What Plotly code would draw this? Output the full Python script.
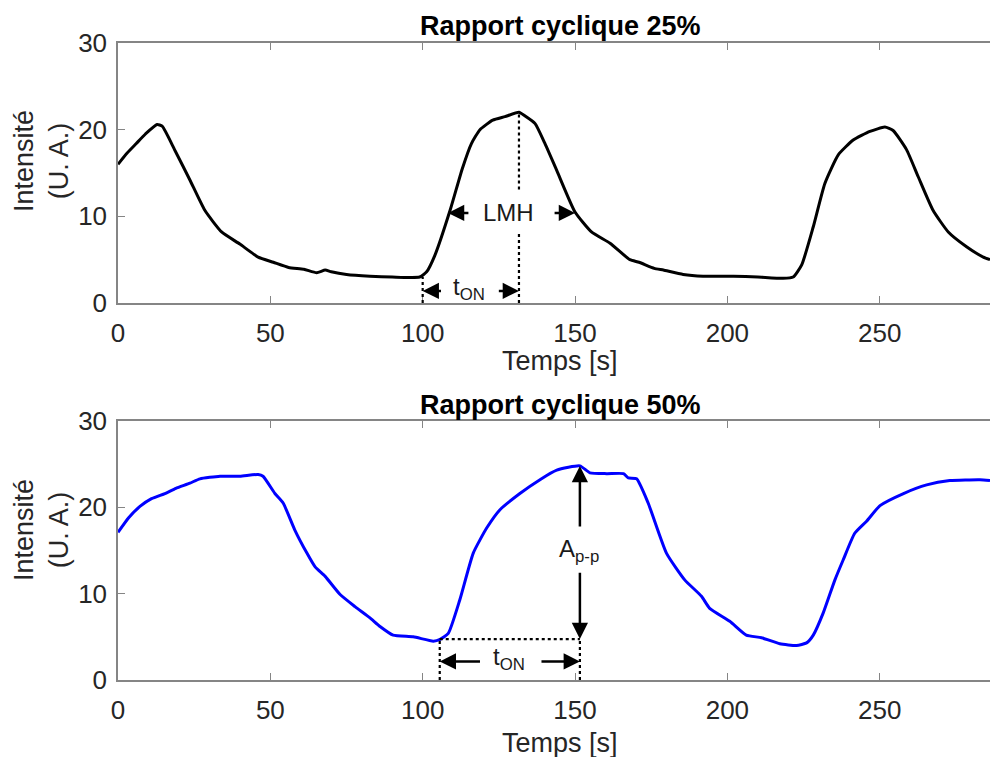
import plotly.graph_objects as go

# ---------------- data ----------------
top_t = [0, 3, 6, 9, 12.8, 14.5, 18.7, 23.6, 28.5, 34, 40, 46, 51, 56, 61, 65.2, 68, 70, 75, 82.7,
         90, 99, 101.3, 104, 109, 113, 116, 118.8, 123, 127, 131.6, 133.5, 136.9, 140, 144, 150,
         155.4, 161.5, 168, 171, 176, 179, 185.5, 192, 202, 210, 218.3, 221.6, 224.4, 228.2, 232,
         236.4, 241.3, 246.8, 251.7, 254.4, 258.8, 262.6, 267.5, 272.5, 278.5, 284, 286.2]
top_i = [16.0, 17.3, 18.4, 19.5, 20.6, 20.4, 17.6, 14.2, 10.7, 8.2, 6.8, 5.3, 4.7, 4.1, 3.9, 3.5,
         3.8, 3.6, 3.3, 3.1, 3.0, 3.0, 3.6, 5.5, 10.7, 15.5, 18.4, 20.0, 21.1, 21.5, 22.0, 21.6,
         20.7, 18.5, 15.3, 10.5, 8.2, 6.9, 5.0, 4.7, 4.0, 3.8, 3.3, 3.1, 3.1, 3.0, 2.85, 3.0, 4.4,
         8.8, 13.8, 17.1, 18.8, 19.8, 20.3, 19.9, 17.7, 14.6, 10.7, 8.2, 6.5, 5.3, 5.0]

bot_t = [0, 3.5, 7.2, 11, 15.4, 19, 23.6, 26.9, 33.5, 40, 46, 47.6, 51.5, 54.2, 58, 62, 64.7, 68,
         72.9, 77.8, 82.7, 86, 90.3, 96.9, 103.5, 105.7, 108.4, 112.2, 116.6, 121, 125.3, 131.9,
         138.5, 144, 151.6, 154.9, 160.4, 165.9, 167.5, 170.2, 174, 180, 186, 191.5, 194.2, 200.8,
         206.2, 211.2, 217.2, 222.7, 226, 228.2, 231.5, 235.3, 238, 241.8, 245.7, 250.1, 257.8,
         265.4, 273, 282.9, 286.2]
bot_i = [17.1, 18.8, 20.1, 21.0, 21.6, 22.2, 22.8, 23.3, 23.6, 23.6, 23.8, 23.6, 21.6, 20.5, 17.4,
         14.7, 13.1, 12.0, 9.9, 8.5, 7.2, 6.2, 5.2, 5.0, 4.5, 4.7, 5.4, 9.3, 14.7, 17.6, 19.7, 21.6,
         23.2, 24.3, 24.8, 24.0, 23.9, 23.9, 23.4, 23.3, 20.5, 14.7, 11.6, 9.7, 8.3, 6.8, 5.2, 4.9,
         4.2, 4.0, 4.3, 5.2, 7.8, 11.6, 13.9, 17.0, 18.4, 20.2, 21.6, 22.6, 23.1, 23.2, 23.1]

x_ticks = [0, 50, 100, 150, 200, 250]
y_ticks = [0, 10, 20, 30]
titles = ["Rapport cyclique 25%", "Rapport cyclique 50%"]
x_label = "Temps [s]"
y_label = "Intensité<br>(U. A.)"

# annotation anchor values (data units)
top_on_start, top_on_end, top_on_base, top_peak = 100, 131.6, 3.0, 22.0
top_ton_y = 1.4
lmh_y, lmh_left, lmh_right = 10.4, 108.3, 150.0
lmh_tail_left, lmh_tail_right = 115.5, 142.8
lmh_gap_lo, lmh_gap_hi = 8.2, 13.1
bot_on_start, bot_on_end, bot_base, bot_peak = 105.6, 151.6, 4.74, 24.8
bot_ton_y = 2.15
bot_ton_tail_left, bot_ton_tail_right = 119.3, 138.5
app_up_tail, app_down_tail = 17.6, 12.6

# ---------------- figure ----------------
FONT = "Liberation Sans, Arial, sans-serif"
fig = go.Figure()
fig.add_trace(go.Scatter(x=top_t, y=top_i, mode="lines",
                         line=dict(color="#000000", width=3, shape="spline", smoothing=0.5),
                         xaxis="x", yaxis="y", showlegend=False, hoverinfo="skip"))
fig.add_trace(go.Scatter(x=bot_t, y=bot_i, mode="lines",
                         line=dict(color="#0000ff", width=3, shape="spline", smoothing=0.5),
                         xaxis="x2", yaxis="y2", showlegend=False, hoverinfo="skip"))

axcol = "#858585"
tickfont = dict(family=FONT, size=26, color="#262626")
xcommon = dict(range=[0, 286.2], tickvals=x_ticks, ticks="inside", ticklen=7, tickcolor=axcol,
               showline=True, linecolor=axcol, linewidth=1.5, mirror="ticks", showgrid=False,
               zeroline=False, tickfont=tickfont, ticklabelstandoff=6)
ycommon = dict(range=[0, 30], tickvals=y_ticks, ticks="inside", ticklen=7, tickcolor=axcol,
               showline=True, linecolor=axcol, linewidth=1.5, mirror=False, showgrid=False,
               zeroline=False, tickfont=tickfont, ticklabelstandoff=4)

D_TOP = [0.5918, 1.0]
D_BOT = [0.0, 0.4066]
fig.update_layout(
    width=990, height=757, margin=dict(l=118, r=0, t=43, b=77),
    paper_bgcolor="white", plot_bgcolor="white",
    xaxis=dict(domain=[0, 1], anchor="y", **xcommon),
    yaxis=dict(domain=D_TOP, anchor="x", **ycommon),
    xaxis2=dict(domain=[0, 1], anchor="y2", **xcommon),
    yaxis2=dict(domain=D_BOT, anchor="x2", **ycommon),
    font=dict(family=FONT),
)

dot = dict(color="#000000", width=2.2, dash="dot")
shapes = [
    dict(type="line", xref="x", yref="y", x0=top_on_start, x1=top_on_start, y0=0, y1=top_on_base, line=dot),
    dict(type="line", xref="x", yref="y", x0=top_on_end, x1=top_on_end, y0=0, y1=lmh_gap_lo, line=dot),
    dict(type="line", xref="x", yref="y", x0=top_on_end, x1=top_on_end, y0=lmh_gap_hi, y1=top_peak, line=dot),
    dict(type="line", xref="x2", yref="y2", x0=bot_on_start, x1=bot_on_end, y0=bot_base, y1=bot_base, line=dot),
    dict(type="line", xref="x2", yref="y2", x0=bot_on_start, x1=bot_on_start, y0=0, y1=bot_base, line=dot),
    dict(type="line", xref="x2", yref="y2", x0=bot_on_end, x1=bot_on_end, y0=0, y1=bot_base, line=dot),
]
fig.update_layout(shapes=shapes)

def arrow(xr, yr, x, y, ax, ay):
    return dict(xref=xr, yref=yr, axref=xr, ayref=yr, x=x, y=y, ax=ax, ay=ay, text="",
                showarrow=True, arrowhead=2, arrowsize=1.3, arrowwidth=2.5, arrowcolor="#000000",
                standoff=0, startstandoff=0)

txtfont = dict(family=FONT, size=24, color="#1a1a1a")
ann = [
    arrow("x", "y", top_on_start, top_ton_y, 106.5, top_ton_y),
    arrow("x", "y", top_on_end, top_ton_y, 124.5, top_ton_y),
    dict(xref="x", yref="y", x=115.3, y=top_ton_y + 0.3, text="t<sub>ON</sub>", showarrow=False, font=txtfont),
    arrow("x", "y", lmh_left, lmh_y, lmh_tail_left, lmh_y),
    arrow("x", "y", lmh_right, lmh_y, lmh_tail_right, lmh_y),
    dict(xref="x", yref="y", x=128.2, y=lmh_y, text="LMH", showarrow=False, font=txtfont),
    arrow("x2", "y2", bot_on_start, bot_ton_y, bot_ton_tail_left, bot_ton_y),
    arrow("x2", "y2", bot_on_end, bot_ton_y, bot_ton_tail_right, bot_ton_y),
    dict(xref="x2", yref="y2", x=128.3, y=bot_ton_y + 0.3, text="t<sub>ON</sub>", showarrow=False, font=txtfont),
    arrow("x2", "y2", bot_on_end, bot_peak, bot_on_end, app_up_tail),
    arrow("x2", "y2", bot_on_end, bot_base, bot_on_end, app_down_tail),
    dict(xref="x2", yref="y2", x=151.2, y=15.0, text="A<sub>p-p</sub>", showarrow=False, font=txtfont),
]

titlefont = dict(family=FONT, size=27, color="#000000")
labfont = dict(family=FONT, size=27, color="#262626")
for k, (ty, xy, yy) in enumerate([(1.0267, 0.5008, 0.8148), (0.4317, -0.0989, 0.2355)]):
    ann.append(dict(xref="paper", yref="paper", x=0.5069, y=ty, text="<b>" + titles[k] + "</b>",
                    showarrow=False, font=titlefont, xanchor="center", yanchor="middle"))
    ann.append(dict(xref="paper", yref="paper", x=0.5069, y=xy, text=x_label,
                    showarrow=False, font=labfont, xanchor="center", yanchor="middle"))
    ann.append(dict(xref="paper", yref="paper", x=-0.0872, y=yy, text=y_label, textangle=-90,
                    showarrow=False, font=labfont, xanchor="center", yanchor="middle"))
fig.update_layout(annotations=ann)

fig.write_html("out.html")
